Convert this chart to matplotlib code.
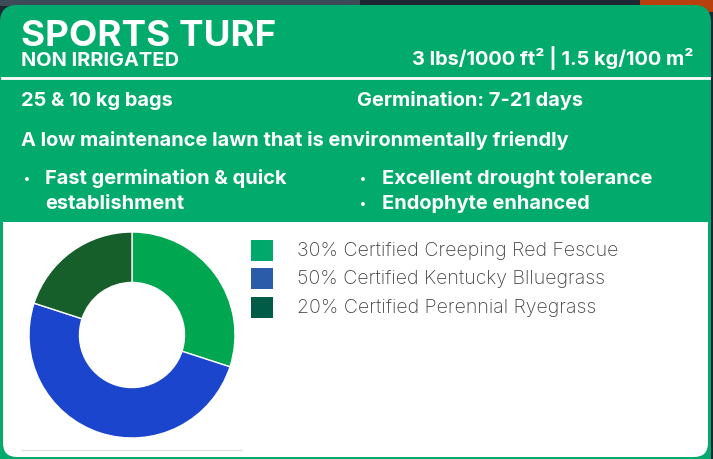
import matplotlib.pyplot as plt
from matplotlib.patches import FancyBboxPatch, Rectangle

# seed mix data
shares = [30, 50, 20]
names = ['Certified Creeping Red Fescue', 'Certified Kentucky Blluegrass', 'Certified Perennial Ryegrass']
slice_colors = ['#00a650', '#1b45cc', '#175f2a']
legend_colors = ['#00a86b', '#2a5caa', '#005c46']

title = 'SPORTS TURF'
subtitle = 'NON IRRIGATED'
rate = '3 lbs/1000 ft² | 1.5 kg/100 m²'
bags = '25 & 10 kg bags'
germ = 'Germination: 7-21 days'
tagline = 'A low maintenance lawn that is environmentally friendly'
left_points = ['Fast germination & quick', 'establishment']
right_points = ['Excellent drought tolerance', 'Endophyte enhanced']

green = '#02ab6b'
W, H = 713, 459

fig = plt.figure(figsize=(W / 100, H / 100), dpi=100, facecolor='#1c2733')

# card drawn in pixel coordinates
ax = fig.add_axes([0, 0, 1, 1])
ax.set_xlim(0, W)
ax.set_ylim(H, 0)
ax.axis('off')

ax.add_patch(Rectangle((0, 0), 360, 6, color='#3d4b58', lw=0))
ax.add_patch(Rectangle((640, 0), 73, 12, color='#b8400f', lw=0))
ax.add_patch(FancyBboxPatch((0, 5), 711, 470, boxstyle='round,pad=0,rounding_size=17',
                            fc=green, ec='none'))
ax.add_patch(FancyBboxPatch((3, 222), 705, 235, boxstyle='round,pad=0,rounding_size=14',
                            fc='white', ec='none'))
ax.add_patch(Rectangle((3, 222), 705, 30, fc='white', ec='none'))
ax.plot([2, 709], [78.3, 78.3], color='white', lw=2)
ax.plot([21, 242], [450, 450], color='#e2e2e2', lw=1)

hdr = dict(family='Inter', weight='bold', color='white', va='baseline')
ax.text(21, 46.5, title, fontsize=26.5, **hdr)
ax.text(21, 65.5, subtitle, fontsize=14.4, **hdr)
ax.text(694, 65.5, rate, fontsize=14.4, ha='right', **hdr)
ax.text(21, 106.5, bags, fontsize=14.4, **hdr)
ax.text(357, 106.5, germ, fontsize=14.4, **hdr)
ax.text(21, 146, tagline, fontsize=14.4, **hdr)
for i, t in enumerate(left_points):
    if i == 0:
        ax.text(24, 183, '•', fontsize=9, **hdr)
    ax.text(45, 184 + i * 25, t, fontsize=14.4, **hdr)
for i, t in enumerate(right_points):
    ax.text(360, 183 + i * 25, '•', fontsize=9, **hdr)
    ax.text(382, 184 + i * 25, t, fontsize=14.4, **hdr)

# legend
for i, (s, n, c) in enumerate(zip(shares, names, legend_colors)):
    y = 239.5 + i * 28.5
    ax.add_patch(Rectangle((251, y), 21.5, 21, fc=c, ec='none'))
    ax.text(297, y + 16.5, f'{s}% {n}', fontsize=14.1, family='Inter', weight='light',
            color='#444444', va='baseline')

# donut
pax = fig.add_axes([29 / W, (H - 438) / H, 206 / W, 206 / H])
pax.pie(shares, colors=slice_colors, startangle=90, counterclock=False,
        wedgeprops=dict(width=0.49, edgecolor='white', linewidth=1))
pax.set_xlim(-1, 1)
pax.set_ylim(-1, 1)
pax.set_aspect('auto')
pax.axis('off')

fig.savefig('out.png', dpi=100, facecolor=fig.get_facecolor())
